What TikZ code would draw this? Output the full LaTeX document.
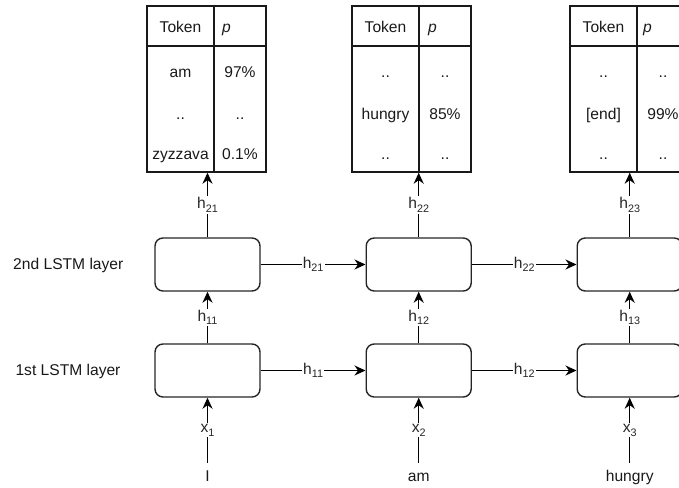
\documentclass[tikz,border=0pt]{standalone}
\usepackage{fontspec}
\setmainfont{Liberation Sans}
\usetikzlibrary{arrows.meta}
\newcommand\lowidx[1]{\raisebox{-0.42ex}{\fontsize{10.8}{11}\selectfont #1}}
\begin{document}
\begin{tikzpicture}[x=1pt,y=-1pt,
  font=\fontsize{15.6}{18}\selectfont,
  lstm/.style={draw=black!85, rounded corners=8pt, minimum width=105pt,
    minimum height=53pt, inner sep=0pt, line width=1.4pt},
  tbl/.style={draw=black!90, minimum width=119pt, minimum height=166pt,
    inner sep=0pt, line width=1.4pt},
  rule/.style={draw=black!90, line width=1.4pt},
  cell/.style={anchor=base, inner sep=0pt, text=black!90},
  pcell/.style={anchor=base west, inner sep=0pt, text=black!90},
  arr/.style={-{Stealth[length=11pt,width=10pt,inset=3.5pt]}, line width=1.4pt, draw=black},
  lbl/.style={fill=white, inner sep=1.2pt, text=black!85},
  word/.style={text height=11pt, text depth=3.5pt, minimum height=30pt,
    inner sep=0pt, text=black!90},
  layer/.style={text=black!90}]
\useasboundingbox (0,0) rectangle (679,487);
\clip (0,0) rectangle (679,487);

% layer captions
\node[layer] (cap2) at (68.3,265) {2nd LSTM layer};
\node[layer] (cap1) at (68,371) {1st LSTM layer};

% LSTM cells: first layer (a), second layer (b)
\node[lstm] (a1) at (207.5,370.5) {};
\node[lstm] (a2) at (418.7,370.5) {};
\node[lstm] (a3) at (629.7,370.5) {};
\node[lstm] (b1) at (207.5,264.5) {};
\node[lstm] (b2) at (418.7,264.5) {};
\node[lstm] (b3) at (629.7,264.5) {};

% input words
\node[word] (w1) at (207.5,478) {I};
\node[word] (w2) at (418.7,478) {am};
\node[word] (w3) at (629.7,478) {hungry};

% output probability tables
\node[tbl] (t1) at (206.5,89) {};
\node[tbl] (t2) at (411.5,89) {};
\node[tbl] (t3) at (629.5,89) {};
\draw[rule] (147,46) -- (266,46) (214,6) -- (214,172);
\draw[rule] (352,46) -- (471,46) (419,6) -- (419,172);
\draw[rule] (570,46) -- (689,46) (637,6) -- (637,172);

% table 1
\node[cell]  (t1a) at (180.5,33) {Token};
\node[pcell] (t1b) at (222,33) {\textit{p}};
\node[cell]  (t1c) at (180.5,77) {am};
\node[cell]  (t1d) at (240,77) {97\%};
\node[cell]  (t1e) at (180.5,119) {..};
\node[cell]  (t1f) at (240,119) {..};
\node[cell]  (t1g) at (180.5,159) {zyzzava};
\node[cell]  (t1h) at (240,159) {0.1\%};

% table 2
\node[cell]  (t2a) at (385.5,33) {Token};
\node[pcell] (t2b) at (428,33) {\textit{p}};
\node[cell]  (t2c) at (385.5,77) {..};
\node[cell]  (t2d) at (445,77) {..};
\node[cell]  (t2e) at (385.5,119) {hungry};
\node[cell]  (t2f) at (445,119) {85\%};
\node[cell]  (t2g) at (385.5,159) {..};
\node[cell]  (t2h) at (445,159) {..};

% table 3
\node[cell]  (t3a) at (603.5,33) {Token};
\node[pcell] (t3b) at (643,33) {\textit{p}};
\node[cell]  (t3c) at (603.5,77) {..};
\node[cell]  (t3d) at (663,77) {..};
\node[cell]  (t3e) at (603.5,119) {[end]};
\node[cell]  (t3f) at (663,119) {99\%};
\node[cell]  (t3g) at (603.5,159) {..};
\node[cell]  (t3h) at (663,159) {..};

% inputs into the first layer
\draw[arr] (w1.north) -- (a1.south) node[lbl,midway] {x\lowidx{1}};
\draw[arr] (w2.north) -- (a2.south) node[lbl,midway] {x\lowidx{2}};
\draw[arr] (w3.north) -- (a3.south) node[lbl,midway] {x\lowidx{3}};

% recurrent connections
\draw[arr] (a1) -- (a2) node[lbl,midway] {h\lowidx{11}};
\draw[arr] (a2) -- (a3) node[lbl,midway] {h\lowidx{12}};
\draw[arr] (b1) -- (b2) node[lbl,midway] {h\lowidx{21}};
\draw[arr] (b2) -- (b3) node[lbl,midway] {h\lowidx{22}};

% first layer to second layer
\draw[arr] (a1) -- (b1) node[lbl,midway] {h\lowidx{11}};
\draw[arr] (a2) -- (b2) node[lbl,midway] {h\lowidx{12}};
\draw[arr] (a3) -- (b3) node[lbl,midway] {h\lowidx{13}};

% second layer to output tables
\draw[arr] (b1.north) -- (b1.north |- t1.south) node[lbl,midway] {h\lowidx{21}};
\draw[arr] (b2.north) -- (b2.north |- t2.south) node[lbl,midway] {h\lowidx{22}};
\draw[arr] (b3.north) -- (b3.north |- t3.south) node[lbl,midway] {h\lowidx{23}};
\end{tikzpicture}
\end{document}
